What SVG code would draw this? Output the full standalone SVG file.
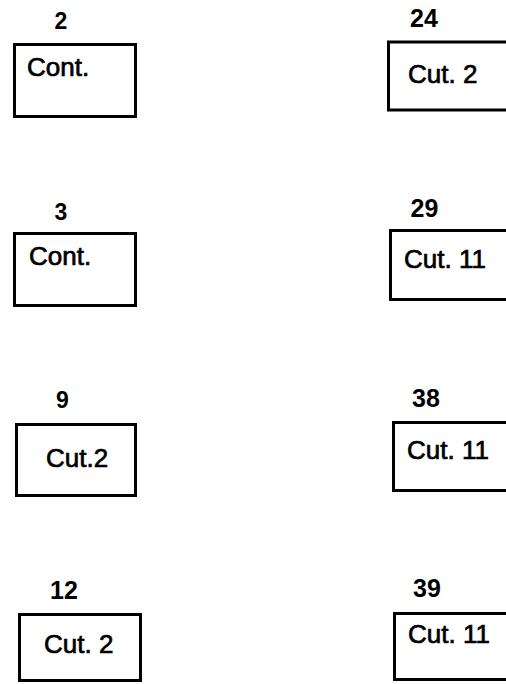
<svg xmlns="http://www.w3.org/2000/svg" width="506" height="684" viewBox="0 0 506 684">
<style>
.box{fill:#fff;stroke:#000;stroke-width:3}
.lbl{font-family:"Liberation Sans",Arial,sans-serif;font-weight:bold;font-size:25px;fill:#000;text-anchor:middle}
.sm{font-size:23px}
.txt{font-family:"Liberation Sans",Arial,sans-serif;font-size:26px;fill:#000;stroke:#000;stroke-width:0.7}
</style>
<rect width="506" height="684" fill="#fff"/>
<g id="connectors"></g>
<g id="n2">
<text class="lbl sm" x="61" y="29">2</text>
<rect class="box" x="14.5" y="44.5" width="121" height="72"/>
<text class="txt" x="27" y="76">Cont.</text>
</g>
<g id="n3">
<text class="lbl sm" x="61" y="220">3</text>
<rect class="box" x="14.5" y="233.5" width="121" height="72"/>
<text class="txt" x="29" y="265">Cont.</text>
</g>
<g id="n9">
<text class="lbl sm" x="62.5" y="408">9</text>
<rect class="box" x="16.5" y="424.5" width="119" height="71"/>
<text class="txt" x="46" y="467">Cut.2</text>
</g>
<g id="n12">
<text class="lbl" x="64" y="599">12</text>
<rect class="box" x="19.5" y="614.5" width="121" height="66"/>
<text class="txt" x="44" y="653">Cut. 2</text>
</g>
<g id="n24">
<text class="lbl" x="424" y="27">24</text>
<rect class="box" x="388.5" y="42" width="130" height="68"/>
<text class="txt" x="408" y="83">Cut. 2</text>
</g>
<g id="n29">
<text class="lbl" x="424.5" y="217">29</text>
<rect class="box" x="390.5" y="230.5" width="130" height="69"/>
<text class="txt" x="404" y="268">Cut. 11</text>
</g>
<g id="n38">
<text class="lbl" x="426" y="407">38</text>
<rect class="box" x="393.5" y="422.5" width="130" height="68"/>
<text class="txt" x="407" y="459">Cut. 11</text>
</g>
<g id="n39">
<text class="lbl" x="427" y="597">39</text>
<rect class="box" x="394.5" y="613.5" width="130" height="66"/>
<text class="txt" x="408" y="643">Cut. 11</text>
</g>
</svg>
